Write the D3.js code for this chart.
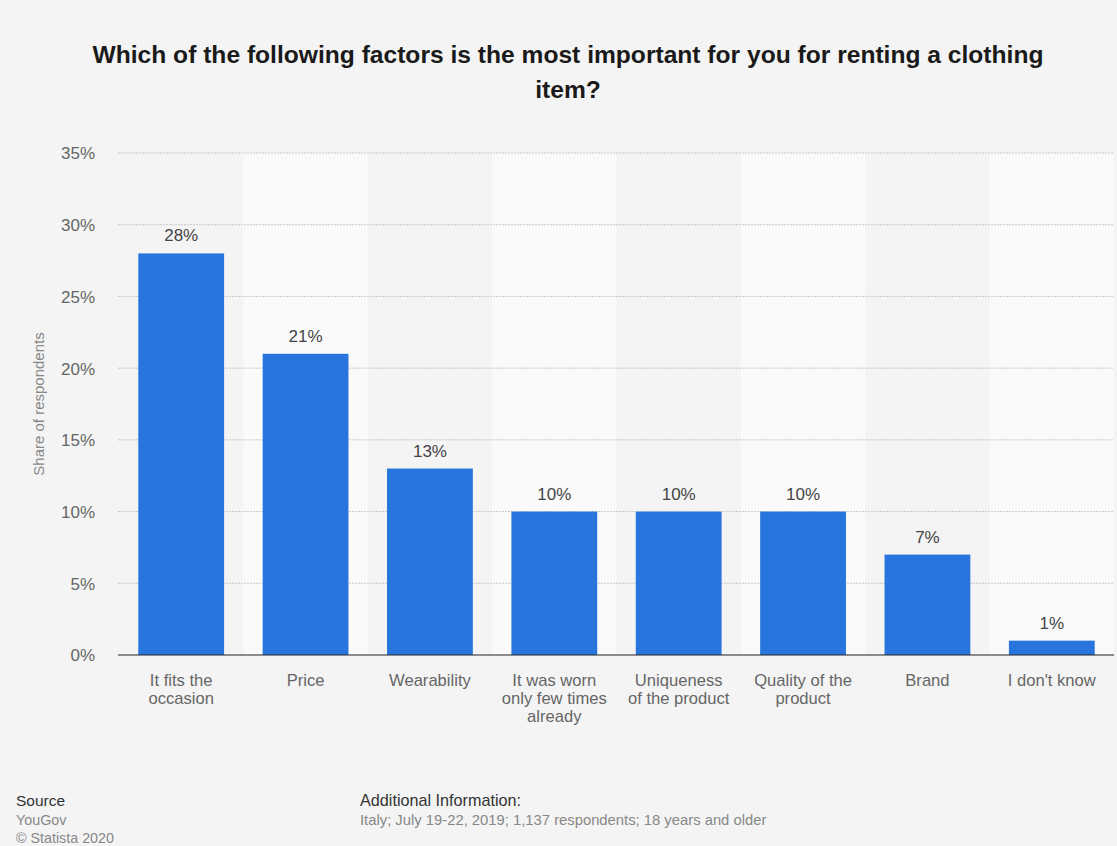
<!DOCTYPE html>
<html><head><meta charset="utf-8">
<script src="https://cdn.jsdelivr.net/npm/d3@7"></script>
<style>
html,body{margin:0;padding:0;background:#f4f4f4;}
svg{display:block;font-family:"Liberation Sans",Arial,Helvetica,sans-serif;}
</style></head>
<body><svg id="chart" width="1117" height="846"></svg>
<script>
const categories = ["It fits the occasion","Price","Wearability","It was worn only few times already","Uniqueness of the product","Quality of the product","Brand","I don't know"];
const categoryLines = [["It fits the","occasion"],["Price"],["Wearability"],["It was worn","only few times","already"],["Uniqueness","of the product"],["Quality of the","product"],["Brand"],["I don't know"]];
const values = [28,21,13,10,10,10,7,1];
const yTicks = [0,5,10,15,20,25,30,35];
const titleLines = ["Which of the following factors is the most important for you for renting a clothing","item?"];

(function(){
const svg = d3.select("#chart");
const W = 1117, H = 846;
svg.append("rect").attr("width",W).attr("height",H).attr("fill","#f4f4f4");

const mLeft = 119, mRight = 1114, mTop = 153, mBottom = 655;
const x = d3.scaleBand().domain(categories).range([mLeft,mRight]).paddingInner(0.31).paddingOuter(0.155);
const y = d3.scaleLinear().domain([0,35]).range([mBottom,mTop]);

const step = x.step();
categories.forEach((c,i)=>{
  if(i%2===1){
    svg.append("rect").attr("x",x(c)-x.paddingInner()*step/2).attr("y",mTop)
      .attr("width",step).attr("height",mBottom-mTop).attr("fill","#fafafa");
  }
});

svg.append("g").selectAll("text").data(titleLines).join("text")
  .attr("x",568).attr("y",(d,i)=>63+i*35).attr("text-anchor","middle")
  .attr("font-size",24.6).attr("font-weight","bold").attr("fill","#1a1a1a").text(d=>d);

svg.append("g").selectAll("line").data(yTicks.filter(t=>t>0)).join("line")
  .attr("x1",mLeft-1).attr("x2",mRight).attr("y1",d=>y(d)).attr("y2",d=>y(d))
  .attr("stroke","#c8c8c8").attr("stroke-width",1).attr("stroke-dasharray","2,1");

const yAxis = d3.axisLeft(y).tickValues(yTicks).tickFormat(d=>d+"%").tickSize(0).tickPadding(0);
const gy = svg.append("g").attr("transform",`translate(95,0)`).call(yAxis);
gy.select(".domain").remove();
gy.selectAll("text").attr("font-size",17).attr("fill","#666").attr("font-family","Liberation Sans, Arial, sans-serif").attr("dy","0.35em");

svg.append("text").attr("transform",`translate(44,404) rotate(-90)`)
  .attr("text-anchor","middle").attr("font-size",15).attr("fill","#888").text("Share of respondents");

svg.append("g").selectAll("rect").data(values).join("rect")
  .attr("x",(d,i)=>x(categories[i])).attr("width",x.bandwidth())
  .attr("y",d=>y(d)).attr("height",d=>mBottom-y(d)).attr("fill","#2876dd");

svg.append("g").selectAll("text").data(values).join("text")
  .attr("x",(d,i)=>x(categories[i])+x.bandwidth()/2).attr("y",d=>y(d)-12)
  .attr("text-anchor","middle").attr("font-size",17).attr("fill","#444").text(d=>d+"%");

const xAxis = d3.axisBottom(x).tickSize(0).tickFormat("");
const gx = svg.append("g").attr("transform",`translate(0,${mBottom})`).call(xAxis);
gx.select(".domain").attr("stroke","#222").attr("stroke-width",1.2).attr("d",`M${mLeft-1},0H${mRight}`);

const xl = svg.append("g");
categories.forEach((c,i)=>{
  const t = xl.append("text").attr("x",x(c)+x.bandwidth()/2).attr("y",686)
    .attr("text-anchor","middle").attr("font-size",16.6).attr("fill","#666");
  categoryLines[i].forEach((l,j)=>{
    t.append("tspan").attr("x",x(c)+x.bandwidth()/2).attr("dy",j===0?0:18).text(l);
  });
});

svg.append("text").attr("x",16).attr("y",806).attr("font-size",15.5).attr("fill","#333").text("Source");
svg.append("text").attr("x",16).attr("y",825).attr("font-size",14.3).attr("fill","#888").text("YouGov");
svg.append("text").attr("x",16).attr("y",843).attr("font-size",14.3).attr("fill","#888").text("© Statista 2020");
svg.append("text").attr("x",360).attr("y",806).attr("font-size",16.2).attr("fill","#333").text("Additional Information:");
svg.append("text").attr("x",360).attr("y",825).attr("font-size",14.8).attr("fill","#888").text("Italy; July 19-22, 2019; 1,137 respondents; 18 years and older");
})();
</script></body></html>
